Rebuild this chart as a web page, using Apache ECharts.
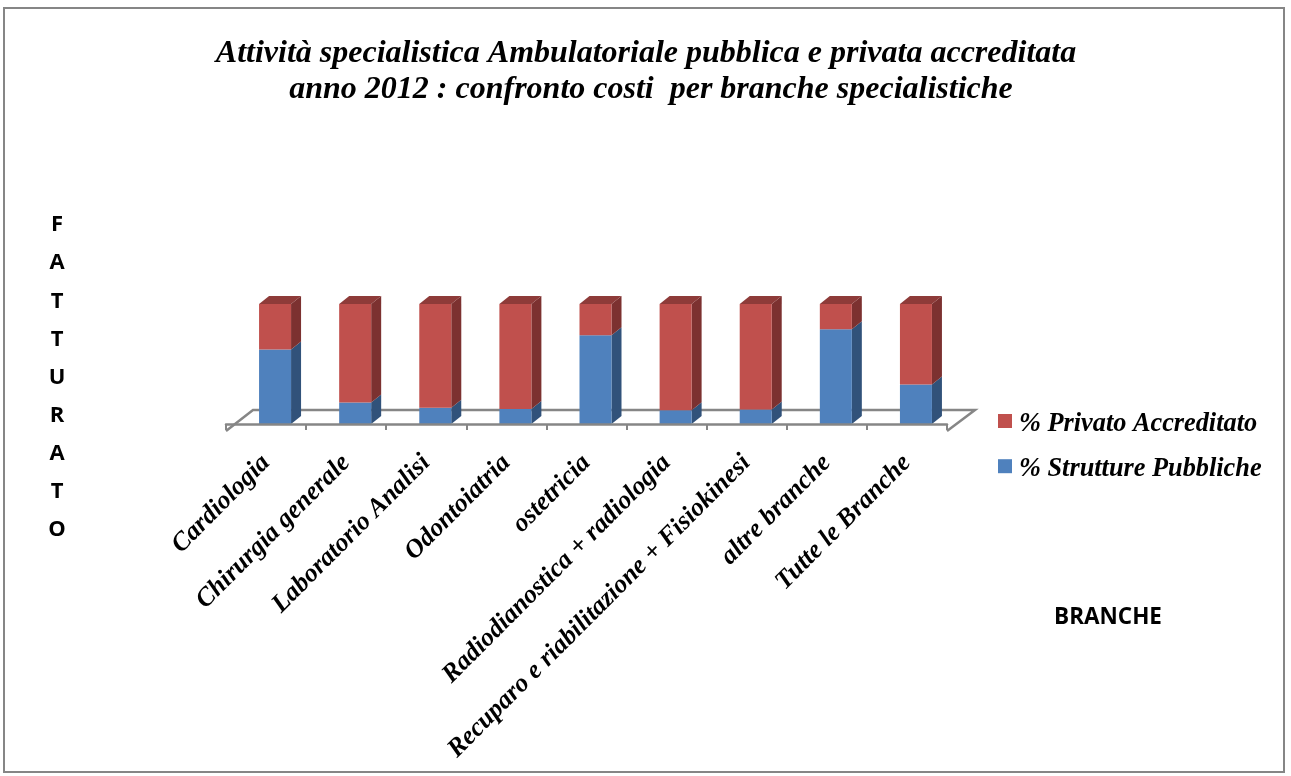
<!DOCTYPE html>
<html><head><meta charset="utf-8">
<script src="https://cdn.jsdelivr.net/npm/echarts@6/dist/echarts.min.js"></script>
<style>html,body{margin:0;padding:0;background:#fff}#c{position:absolute;left:0;top:0;width:1291px;height:776px}</style>
</head><body><div id="c"></div>
<script>
const categories = ['Cardiologia','Chirurgia generale','Laboratorio Analisi','Odontoiatria','ostetricia','Radiodianostica + radiologia','Recuparo e riabilitazione + Fisiokinesi','altre branche','Tutte le Branche'];
const pubblico = [62, 18, 13.5, 12.5, 74, 11.5, 12, 79, 33];
const privato = [38, 82, 86.5, 87.5, 26, 88.5, 88, 21, 67];
const nameSerif = '"Liberation Serif"';
const chart = echarts.init(document.getElementById('c'), null, {renderer:'canvas'});
const W = 32, DX = 10, DY = 8, SHIFT = 9;
function box(api, color, side, top) {
  const i = api.value(0), a = api.value(1), b = api.value(2);
  const p0 = api.coord([i, a]), p1 = api.coord([i, b]);
  const x = p0[0] - W/2 + SHIFT, y0 = p0[1], y1 = p1[1];
  const kids = [
    {type:'polygon', shape:{points:[[x+W,y0],[x+W+DX,y0-DY],[x+W+DX,y1-DY],[x+W,y1]]}, style:{fill:side}},
    {type:'rect', shape:{x:x,y:y1,width:W,height:y0-y1}, style:{fill:color}}
  ];
  if (top) kids.push({type:'polygon', shape:{points:[[x,y1],[x+DX,y1-DY],[x+W+DX,y1-DY],[x+W,y1]]}, style:{fill:top}});
  return {type:'group', children:kids};
}
function floorItem(params, api) {
  if (params.dataIndex !== 0) return null;
  const c = params.coordSys;
  const yf = c.y + c.height + 7, xl = c.x, xr = c.x + c.width;
  return {type:'polyline', silent:true, shape:{points:[[xl,yf],[xl+27,yf-21],[xr+28,yf-21],[xr,yf]]},
    style:{fill:'none', stroke:'#868686', lineWidth:2.5}};
}
const titleStyle = {fontFamily:nameSerif,fontStyle:'italic',fontWeight:'bold',fontSize:32,lineHeight:36,color:'#000'};
chart.setOption({
  animation:false,
  backgroundColor:'#fff',
  title:[
    {text:'Attività specialistica Ambulatoriale pubblica e privata accreditata', left:641, top:31, textAlign:'center', textStyle:titleStyle},
    {text:'anno 2012 : confronto costi  per branche specialistiche', left:646, top:67, textAlign:'center', textStyle:titleStyle},
    {text:'F\nA\nT\nT\nU\nR\nA\nT\nO', left:52, top:201, textAlign:'center',
     textStyle:{fontFamily:'"Open Sans"',fontWeight:'bold',fontSize:22,lineHeight:38.1,color:'#000'}},
    {text:'BRANCHE', left:1103, top:601, textAlign:'center',
     textStyle:{fontFamily:'"Open Sans"',fontWeight:'bold',fontSize:22.5,color:'#000'}}
  ],
  legend:{
    left:993, top:406.5, orient:'vertical', itemWidth:14, itemHeight:14, itemGap:19.2, icon:'rect',
    data:['% Privato Accreditato','% Strutture Pubbliche'],
    formatter:'{a|{name}}',
    textStyle:{rich:{a:{fontFamily:nameSerif,fontStyle:'italic',fontWeight:'bold',fontSize:26.3,color:'#000',padding:[7,0,0,2]}}}
  },
  grid:{left:226, right:344, top:304, height:120, containLabel:false},
  xAxis:{type:'category', data:categories, offset:7, z:5,
    axisLine:{show:true,lineStyle:{color:'#868686',width:2.5}},
    axisTick:{show:true,length:6,alignWithLabel:false,lineStyle:{color:'#868686',width:2}},
    axisLabel:{rotate:45,interval:0,margin:28,fontFamily:nameSerif,fontStyle:'italic',fontWeight:'bold',fontSize:26,color:'#000'}},
  yAxis:{type:'value',min:0,max:100,show:false},
  graphic:[{type:'rect',shape:{x:4,y:8,width:1280,height:764},style:{fill:'none',stroke:'#868686',lineWidth:2},silent:true,z:-1}],
  series:[
    {type:'custom',name:'floor',z:1,renderItem:floorItem,data:[[0]],silent:true,clip:false,legendHoverLink:false},
    {type:'custom',name:'% Strutture Pubbliche',z:2,itemStyle:{color:'#4F81BD'},clip:false,
     encode:{x:0,y:2},
     renderItem:(p,api)=>box(api,'#4F81BD','#31527A',null),
     data:pubblico.map((v,i)=>[i,0,v])},
    {type:'custom',name:'% Privato Accreditato',z:3,itemStyle:{color:'#C0504D'},clip:false,
     encode:{x:0,y:2},
     renderItem:(p,api)=>box(api,'#C0504D','#7C3130','#8E3B39'),
     data:privato.map((v,i)=>[i,pubblico[i],pubblico[i]+v])}
  ]
});
</script></body></html>
